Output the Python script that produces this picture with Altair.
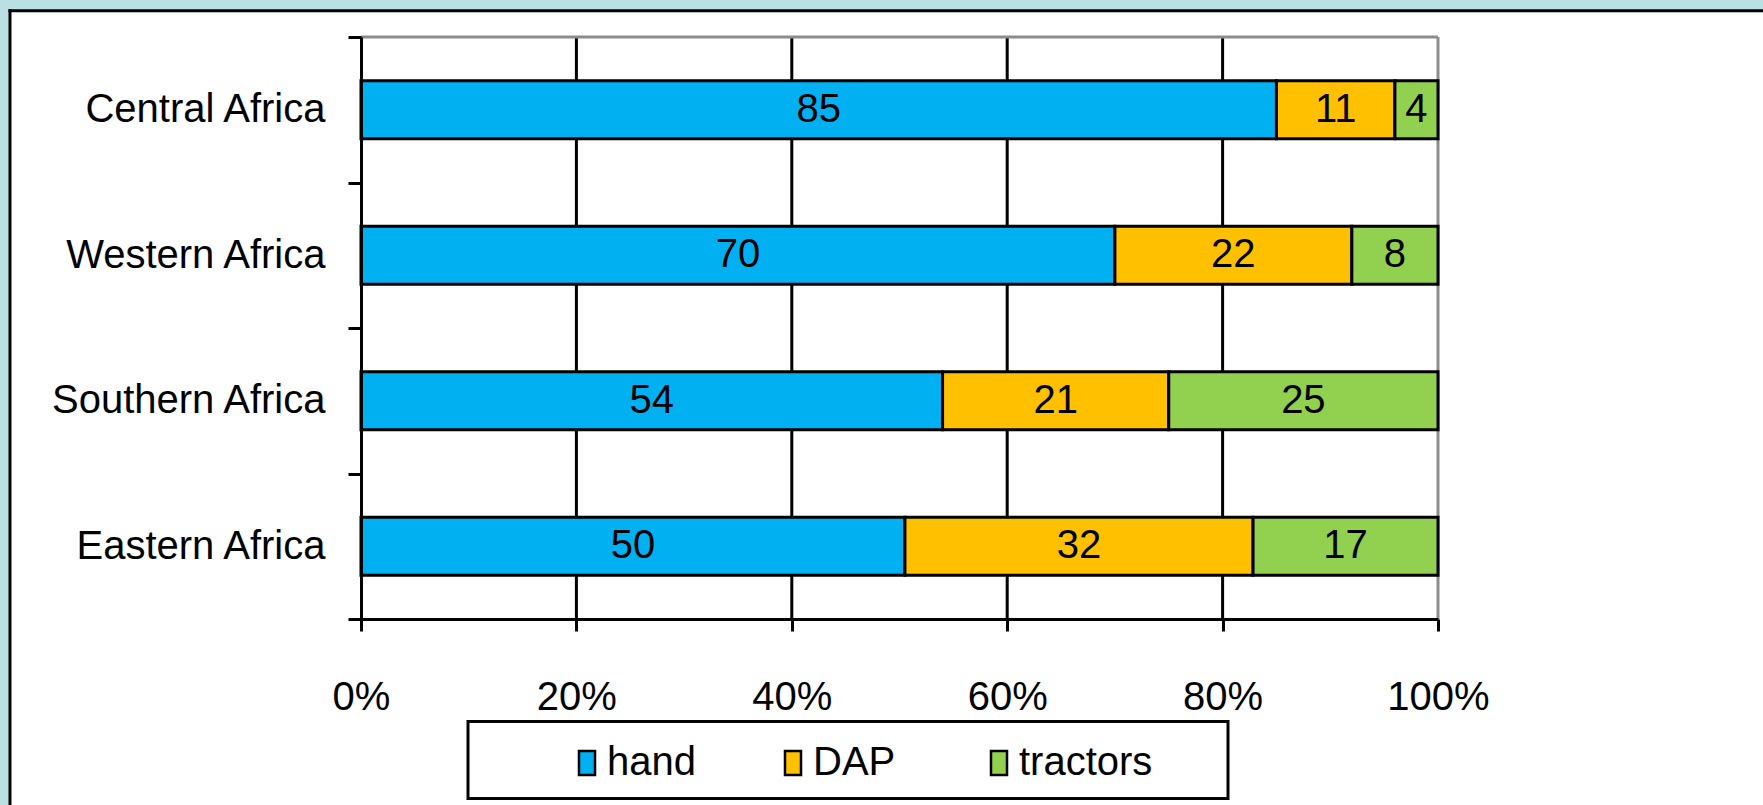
import altair as alt
import pandas as pd

# Share of farm power source by region (%)
regions = ["Central Africa", "Western Africa", "Southern Africa", "Eastern Africa"]
sources = ["hand", "DAP", "tractors"]
hand = [85, 70, 54, 50]
dap = [11, 22, 21, 32]
tractors = [4, 8, 25, 17]
colors = ["#00B0F0", "#FFC000", "#92D050"]
x_tick_values = [0, 0.2, 0.4, 0.6, 0.8, 1.0]
grid_values = [0.2, 0.4, 0.6, 0.8]
edge_values = [1.0]

rows = []
for i, region in enumerate(regions):
    for j, (source, vals) in enumerate(zip(sources, [hand, dap, tractors])):
        rows.append({"region": region, "source": source, "order": j, "value": vals[i]})
df = pd.DataFrame(rows)

FONT = "Liberation Sans"
FS = 40
W, H = 1077, 582
FRAME_BG = "#BAE0E3"

x_scale = alt.Scale(domain=[0, 1], nice=False)
# full-step bands so the category ticks fall between the bars
y_scale = alt.Scale(domain=regions, paddingInner=0, paddingOuter=0)

x_axis = alt.Axis(
    values=x_tick_values,
    format="%",
    title=None,
    grid=False,
    labelFont=FONT,
    labelFontSize=FS,
    labelColor="black",
    labelPadding=46,
    labelFlush=False,
    labelOverlap=False,
    tickSize=12,
    tickWidth=3,
    tickColor="black",
    domainColor="black",
    domainWidth=3,
    zindex=1,
)
y_axis = alt.Axis(
    title=None,
    labelFont=FONT,
    labelFontSize=FS,
    labelColor="black",
    labelPadding=23,
    labelLimit=500,
    tickBand="extent",
    tickSize=13,
    tickWidth=3,
    tickColor="black",
    domainColor="black",
    domainWidth=3,
    zindex=1,
)

# normalised stack positions computed per region
stacked = (
    alt.Chart(df)
    .transform_joinaggregate(total="sum(value)", groupby=["region"])
    .transform_window(
        cum="sum(value)", groupby=["region"], sort=[alt.SortField("order")], frame=[None, 0]
    )
    .transform_calculate(
        start="(datum.cum - datum.value) / datum.total",
        end="datum.cum / datum.total",
        mid="(datum.cum - datum.value / 2) / datum.total",
    )
)

one_row = pd.DataFrame({"k": [0]})

# tinted margin strips and the black frame line around the white page
strip_left = alt.Chart(one_row).mark_rect(fill=FRAME_BG).encode(
    x=alt.value(-362), x2=alt.value(-351.5), y=alt.value(-38), y2=alt.value(H + 200)
)
strip_top = alt.Chart(one_row).mark_rect(fill=FRAME_BG).encode(
    x=alt.value(-362), x2=alt.value(W + 400), y=alt.value(-38), y2=alt.value(-27)
)
frame_left = alt.Chart(one_row).mark_rule(color="black", strokeWidth=3).encode(
    x=alt.value(-351), y=alt.value(-27.8), y2=alt.value(H + 200)
)
frame_top = alt.Chart(one_row).mark_rule(color="black", strokeWidth=3).encode(
    x=alt.value(-352.5), x2=alt.value(W + 400), y=alt.value(-26.3)
)

grid = alt.Chart(pd.DataFrame({"x": grid_values})).mark_rule(
    color="black", strokeWidth=3
).encode(x=alt.X("x:Q", scale=x_scale, axis=x_axis))

right_edge = alt.Chart(pd.DataFrame({"x": edge_values})).mark_rule(
    color="#8c8c8c", strokeWidth=3
).encode(x=alt.X("x:Q", scale=x_scale, axis=x_axis))

top_edge = alt.Chart(one_row).mark_rule(color="#8c8c8c", strokeWidth=3).encode(
    y=alt.value(0)
)

legend_box = alt.Chart(one_row).mark_rect(fill="white", stroke="black", strokeWidth=3).encode(
    x=alt.value(107), x2=alt.value(867), y=alt.value(684.5), y2=alt.value(761.5)
)

bars = stacked.mark_bar(stroke="black", strokeWidth=3, height={"band": 0.4}).encode(
    x=alt.X("start:Q", scale=x_scale, axis=x_axis),
    x2="end:Q",
    y=alt.Y("region:N", scale=y_scale, sort=regions, axis=y_axis),
    color=alt.Color(
        "source:N",
        scale=alt.Scale(domain=sources, range=colors),
        sort=sources,
        legend=alt.Legend(
            orient="none",
            legendX=206,
            legendY=706,
            direction="horizontal",
            columns=3,
            gridAlign="all",
            columnPadding=32,
            title=None,
            padding=0,
            symbolType="M-0.667,-1H0.667V1H-0.667Z",
            symbolSize=576,
            symbolStrokeColor="black",
            symbolStrokeWidth=2.5,
            symbolOpacity=1,
            labelFont=FONT,
            labelFontSize=FS,
            labelColor="black",
            labelOffset=0,
        ),
    ),
)

labels = stacked.mark_text(font=FONT, fontSize=FS, color="black", baseline="middle").encode(
    x=alt.X("mid:Q", scale=x_scale, axis=x_axis),
    y=alt.Y("region:N", scale=y_scale, sort=regions, axis=y_axis),
    text=alt.Text("value:Q"),
)

chart = (
    alt.layer(
        strip_left, strip_top, frame_left, frame_top,
        grid, right_edge, top_edge, legend_box, bars, labels,
    )
    .properties(
        width=W,
        height=H,
        background="white",
        padding={"left": 361, "top": 37, "right": 325, "bottom": 186},
        autosize=alt.AutoSizeParams(type="none"),
    )
    .configure_view(strokeWidth=0)
)

chart.save("out.html", embed_options={"renderer": "svg", "actions": False})
